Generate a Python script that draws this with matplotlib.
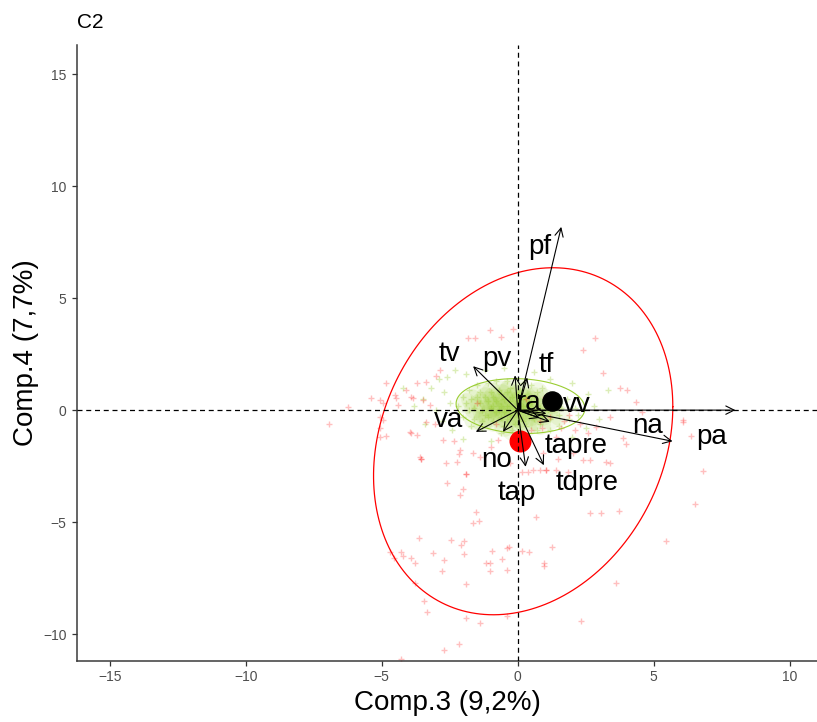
import numpy as np
import matplotlib
matplotlib.use("Agg")
import matplotlib.pyplot as plt

plt.rcParams['font.family'] = ['Liberation Sans', 'DejaVu Sans']

# variable loadings (arrow tips) and where their labels sit
var_names = ["pf", "tv", "pv", "tf", "ra", "vv", "va", "na", "pa", "tapre", "no", "tdpre", "tap"]
arrow_x = [1.60, -1.64, -0.10, 0.35, 1.05, 0.80, -1.54, 5.69, 8.00, 1.18, -0.54, 0.96, 0.29]
arrow_y = [8.18, 1.96, 1.55, 1.45, -0.15, -0.35, -0.97, -1.39, 0.00, -0.52, -0.97, -2.46, -2.53]
label_x = [0.81, -2.50, -0.78, 1.05, 0.38, 2.16, -2.56, 4.79, 7.13, 2.16, -0.78, 2.54, -0.02]
label_y = [7.30, 2.52, 2.26, 2.02, 0.30, 0.24, -0.43, -0.73, -1.18, -1.62, -2.22, -3.26, -3.72]

# group means
mean_green = (1.27, 0.40)
mean_red = (0.07, -1.39)

# ellipses: centre and covariance [sxx, sxy, syy]
ell_red_c = (0.20, -1.39)
ell_red_cov = [30.25, 8.5, 60.0]
ell_green_c = (0.10, 0.18)
ell_green_cov = [5.6, -0.25, 1.5]

red_pts = [
    (-1.52, -4.54), (-1.64, -5.06), (-1.42, -4.96), (0.66, -4.76), (2.65, -4.58), (3.05, -4.58), (3.73, -4.5),
    (-3.63, -5.73), (-2.44, -5.8), (-2.07, -6.03), (-1.97, -5.83), (-1.97, -6.44), (-4.71, -6.33), (-4.55, -6.58),
    (-4.3, -6.33), (-4.2, -6.52), (-3.91, -6.58), (-3.76, -6.82), (-3.11, -6.4), (-2.72, -6.7), (-2.77, -7.19),
    (-3.76, -7.74), (-1.92, -7.78), (-1.18, -6.82), (-1.03, -6.82), (-1.03, -7.19), (-0.93, -6.28), (-0.58, -6.65),
    (-0.38, -6.17), (-0.33, -6.1), (-0.38, -7.14), (0.17, -6.28), (0.42, -6.35), (0.97, -6.82), (0.97, -6.95),
    (1.27, -6.1), (3.6, -7.74), (-3.46, -8.51), (-3.32, -9.0), (-1.92, -9.26), (-1.39, -9.49), (-0.38, -9.2),
    (2.32, -9.42), (-2.72, -10.71), (-2.17, -10.46), (-4.3, -11.12),
    (6.38, -1.15), (6.81, -2.72), (6.53, -4.17), (5.44, -5.85), (3.97, -1.52), (3.87, -1.26), (3.26, -2.31),
    (3.38, -2.38), (2.4, -2.23), (2.65, -2.23), (1.03, -2.68), (1.42, -2.68), (1.85, -2.75), (0.93, -1.93),
    (1.48, -2.16), (2.03, -1.93), (6.08, -0.52),
    (-6.94, -0.63), (-5.07, -0.82), (-5.07, -1.22), (-4.85, -1.15), (-3.93, -1.01), (-3.72, -1.12), (-2.75, -1.34),
    (-2.35, -1.38), (-3.57, -2.16), (-2.25, -2.31), (-2.16, -1.98), (-1.64, -1.93), (-1.92, -2.87), (-2.6, -3.27),
    (-2.01, -3.5), (-2.13, -3.79), (-0.97, -1.64), (-0.72, -1.34), (-0.29, -2.38), (0.14, -2.75), (0.38, -2.75),
    (0.81, -2.68), (-3.05, -0.6), (-3.36, -0.52),
    (-6.24, 0.12), (-5.38, 0.52), (-5.07, 0.45), (-4.95, 0.3), (-4.85, 1.22), (-4.52, 0.67), (-4.46, 0.52),
    (-4.4, 0.22), (-5.07, -0.3), (-4.95, -0.45), (-3.97, -0.97), (-3.72, 1.19), (-3.36, 1.26), (-2.99, 1.52),
    (-2.87, 1.79), (-3.91, 0.59), (-3.48, 0.45), (-3.24, 0.22), (-1.83, 3.2), (-1.58, 3.2), (-3.54, -2.16),
    (-1.03, 3.57), (-0.6, 3.27), (-0.17, 3.6), (2.4, 2.68), (2.83, 3.2), (3.14, 1.64), (3.75, 0.97), (4.0, 0.89),
    (4.36, 0.37), (4.55, -0.07), (6.08, -0.45), (-4.09, 0.89), (-3.85, 0.52), (2.89, -0.74), (3.38, -0.3),
    (-3.6, -2.08), (-2.62, -2.38), (-1.89, -2.83), (-2.13, -1.79), (-1.4, -2.08), (0.56, -2.68), (1.05, -2.68),
    (0.8, -0.5), (1.2, -0.3), (1.6, -0.8), (0.5, -0.9), (1.9, -0.2), (2.3, -0.6), (-0.8, -0.6), (-1.5, 0.3),
    (0.3, 0.5), (1.0, 0.6), (2.6, -1.0), (1.4, -1.2), (1.7, -0.5), (2.1, -0.9), (0.9, -0.8),
]

# dense core of the green group
green_core = [
    (-1.4, 0.3), (-1.2, 0.6), (-1.2, -0.2), (-1.0, 0.1), (-1.0, 0.8), (-0.9, -0.5), (-0.8, 0.4), (-0.7, 0.0),
    (-0.7, 0.9), (-0.6, -0.3), (-0.5, 0.5), (-0.5, -0.7), (-0.4, 0.2), (-0.3, 1.0), (-0.3, -0.2), (-0.2, 0.6),
    (-0.1, 0.0), (-0.1, -0.6), (0.0, 0.4), (0.1, 0.9), (0.1, -0.3), (0.2, 0.2), (0.3, -0.7), (0.3, 0.6),
    (0.4, 0.0), (0.5, 0.4), (0.6, -0.4), (0.7, 0.8), (0.8, 0.1), (0.9, -0.2), (1.0, 0.5),
    (-1.6, -0.4), (-1.3, 0.0), (-1.1, 0.4), (-0.9, 0.2), (-0.8, -0.1), (-0.6, 0.7), (-0.6, 0.2), (-0.4, -0.4),
    (-0.3, 0.4), (-0.2, 0.1), (-0.2, -0.9), (0.0, 0.7), (0.0, -0.1), (0.2, -0.5), (0.2, 0.5), (0.4, 0.3),
    (0.5, -0.2), (0.6, 0.6), (0.8, -0.6), (1.1, 0.0), (1.2, -0.4),
    (-1.9, 0.3), (-1.7, 0.5), (-1.6, 0.1), (-1.4, 0.8), (-1.3, -0.5), (-0.9, 0.6), (-0.4, 0.8), (0.2, 0.0),
    (0.7, -0.1), (1.3, 0.3), (1.5, -0.2), (-0.5, -0.1), (-1.1, -0.3),
]
# sparser ring of the green group
green_ring = [
    (-2.2, 0.2), (-2.0, 0.6), (-2.0, -0.3), (-1.8, 0.9), (-1.8, 0.0), (-1.7, -0.7), (-1.5, 1.1), (-1.5, 0.6),
    (-1.3, -0.8), (-1.1, 1.2), (-0.8, 1.3), (-0.6, -1.0), (-0.4, 1.3), (0.2, 1.2), (0.5, 1.1), (0.9, 1.0),
    (1.3, 0.7), (1.4, 0.3), (1.5, -0.7), (1.6, 0.1), (1.8, 0.5), (1.9, -0.4), (2.1, 0.1), (2.2, -0.2),
    (1.2, -0.9), (0.7, -0.9),
    (-3.5, 0.5), (-3.2, 1.0), (-3.0, 0.0), (-2.8, -0.5), (-2.7, 0.8), (-2.6, 1.5), (-2.5, 0.3), (-2.4, -0.9),
    (-2.9, 1.4), (-3.8, 0.2), (-2.3, 1.8), (-1.9, 1.6), (-1.2, 1.8), (-0.5, 1.9), (0.6, 1.7), (1.2, 1.4),
    (2.0, 1.2), (2.6, 0.7), (2.8, 0.2), (3.0, -0.4), (2.5, -0.8), (2.0, -1.2), (-1.0, -1.4), (-2.0, -1.3),
    (0.3, -1.3), (3.3, 0.9), (-4.2, 1.0), (-3.4, -0.6),
]


def ellipse_xy(c, cov, n=200):
    s = np.array([[cov[0], cov[1]], [cov[1], cov[2]]])
    L = np.linalg.cholesky(s)
    t = np.linspace(0, 2 * np.pi, n)
    xy = L @ np.vstack([np.cos(t), np.sin(t)])
    return xy[0] + c[0], xy[1] + c[1]


fig = plt.figure(figsize=(8.17, 7.22), dpi=100)
ax = fig.add_axes([77 / 817, 61 / 722, 740 / 817, 616 / 722])

cx, cy = zip(*green_core)
gx, gy = zip(*(green_core + green_ring))
rx, ry = zip(*red_pts)
ax.scatter(cx, cy, s=220, marker='o', color='#9ACD32', alpha=0.13, linewidths=0, zorder=1)
ax.scatter(gx, gy, s=14, marker='+', color='#9ACD32', alpha=0.35, linewidths=1, zorder=1)
ax.scatter(rx, ry, s=14, marker='+', color='#FF0000', alpha=0.25, linewidths=1, zorder=1)

ex, ey = ellipse_xy(ell_red_c, ell_red_cov)
ax.plot(ex, ey, color='#FF0000', lw=0.9, zorder=2)
ex, ey = ellipse_xy(ell_green_c, ell_green_cov)
ax.plot(ex, ey, color='#9ACD32', lw=0.8, zorder=2)

ax.scatter([mean_green[0]], [mean_green[1]], s=190, color='black', zorder=2)
ax.scatter([mean_red[0]], [mean_red[1]], s=220, color='#FF0000', zorder=2)

ax.axhline(0, color='black', lw=0.9, ls=(0, (4, 3)), zorder=3)
ax.axvline(0, color='black', lw=0.9, ls=(0, (4, 3)), zorder=3)

for tx, ty in zip(arrow_x, arrow_y):
    ax.annotate('', xy=(tx, ty), xytext=(0, 0),
                arrowprops=dict(arrowstyle='->,head_length=0.6,head_width=0.3',
                                color='black', lw=0.8, shrinkA=0, shrinkB=0), zorder=4)

for name, lx, ly in zip(var_names, label_x, label_y):
    ax.text(lx, ly, name, fontsize=20, ha='center', va='center', color='black', zorder=5)

ax.set_xlim(-16.2, 11.0)
ax.set_ylim(-11.2, 16.3)
ax.set_xticks([-15, -10, -5, 0, 5, 10])
ax.set_yticks([-10, -5, 0, 5, 10, 15])
for side in ['top', 'right']:
    ax.spines[side].set_visible(False)
for side in ['left', 'bottom']:
    ax.spines[side].set_color('#3a3a3a')
    ax.spines[side].set_linewidth(1.1)
ax.tick_params(direction='out', length=3.5, width=0.9, color='#333333',
               labelsize=10, labelcolor='#4D4D4D', pad=3)
ax.tick_params(axis='y', pad=4)

ax.set_xlabel('Comp.3 (9,2%)', fontsize=20, labelpad=4)
ax.set_ylabel('Comp.4 (7,7%)', fontsize=20, labelpad=3)
fig.text(77 / 817, 1 - 22 / 722, 'C2', fontsize=15, ha='left', va='center')

fig.savefig('out.png', dpi=100)
